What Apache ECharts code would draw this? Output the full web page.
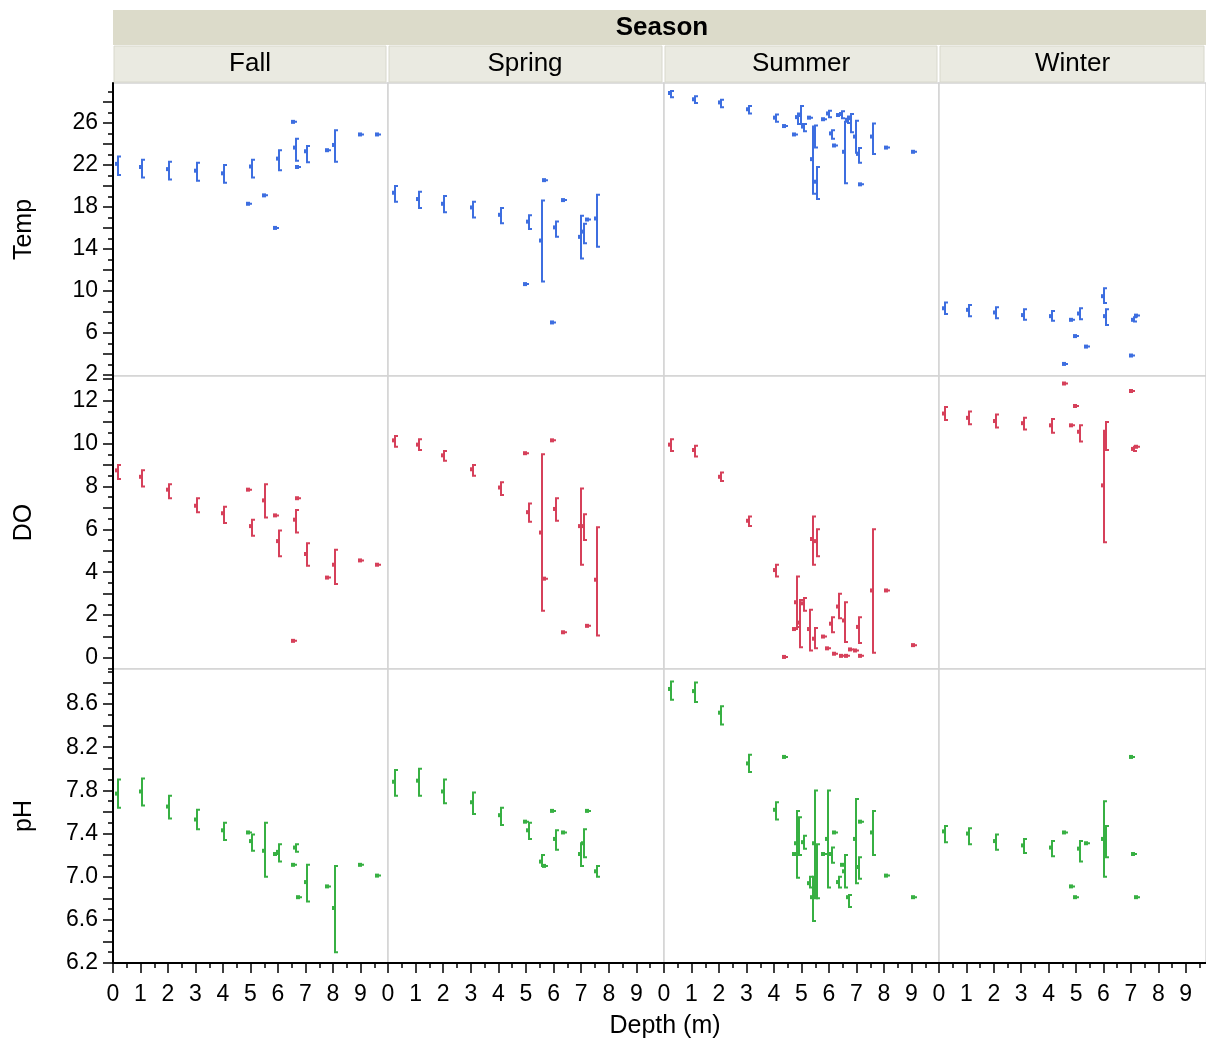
<!DOCTYPE html>
<html>
<head>
<meta charset="utf-8">
<script src="https://cdn.jsdelivr.net/npm/echarts@6/dist/echarts.min.js"></script>
<style>
html, body { margin: 0; padding: 0; background: #fff; }
#chart { width: 1206px; height: 1043px; }
</style>
</head>
<body>
<div id="chart"></div>
<script>
// each row: [depth, mean, low, high]  (low = high = mean for single readings)
var tempFall = [
    [0.15, 22.1, 21.05, 22.8], [1.0, 21.8, 20.8, 22.5], [2.0, 21.6, 20.6, 22.3],
    [3.0, 21.45, 20.5, 22.2], [4.0, 21.2, 20.3, 22.0], [4.9, 18.3, 18.3, 18.3],
    [5.03, 21.85, 20.8, 22.5], [5.5, 19.1, 19.1, 19.1], [5.9, 16.0, 16.0, 16.0],
    [6.0, 22.6, 21.5, 23.4], [6.53, 26.1, 26.1, 26.1], [6.62, 23.65, 22.4, 24.5],
    [6.7, 21.8, 21.8, 21.8], [7.02, 23.3, 22.25, 23.8], [7.79, 23.4, 23.4, 23.4],
    [8.03, 23.9, 22.3, 25.3], [8.98, 24.9, 24.9, 24.9], [9.6, 24.9, 24.9, 24.9]
];
var tempSpring = [
    [0.22, 19.35, 18.5, 20.0], [1.08, 18.75, 17.9, 19.45], [2.0, 18.3, 17.5, 19.05],
    [3.04, 17.95, 17.0, 18.5], [4.05, 17.25, 16.45, 17.9], [4.95, 10.65, 10.65, 10.65],
    [5.08, 16.6, 15.9, 17.2], [5.56, 14.8, 10.9, 18.6], [5.65, 20.55, 20.55, 20.55],
    [5.95, 7.0, 7.0, 7.0], [6.04, 16.05, 15.15, 16.6], [6.35, 18.65, 18.65, 18.65],
    [6.96, 15.15, 13.1, 17.15], [7.05, 15.65, 14.55, 16.4], [7.22, 16.8, 16.8, 16.8],
    [7.53, 16.9, 14.2, 19.15]
];
var tempSummer = [
    [0.22, 28.85, 28.45, 29.05], [1.09, 28.25, 27.9, 28.55], [2.05, 27.95, 27.5, 28.2],
    [3.07, 27.3, 26.9, 27.6], [4.04, 26.5, 26.1, 26.8], [4.35, 25.7, 25.7, 25.7],
    [4.74, 24.9, 24.9, 24.9], [4.84, 26.55, 25.9, 26.9], [4.96, 26.75, 25.9, 27.6],
    [5.07, 25.65, 25.2, 25.9], [5.29, 26.5, 26.5, 26.5], [5.37, 22.55, 19.25, 25.65],
    [5.47, 24.85, 23.65, 25.75], [5.53, 20.4, 18.75, 21.8], [5.77, 26.35, 26.35, 26.35],
    [5.95, 26.9, 26.55, 27.15], [6.08, 25.0, 24.5, 25.3], [6.17, 23.85, 23.85, 23.85],
    [6.33, 26.75, 26.75, 26.75], [6.45, 26.85, 26.45, 27.1], [6.55, 23.25, 20.25, 26.1],
    [6.66, 26.3, 26.0, 26.6], [6.75, 26.45, 25.1, 26.85], [6.96, 24.7, 23.15, 26.2],
    [7.06, 23.05, 22.2, 23.6], [7.14, 20.15, 20.15, 20.15], [7.58, 24.7, 23.05, 25.95],
    [8.06, 23.65, 23.65, 23.65], [9.04, 23.25, 23.25, 23.25]
];
var tempWinter = [
    [0.2, 8.35, 7.8, 8.9], [1.07, 8.2, 7.6, 8.65], [2.05, 7.95, 7.4, 8.45],
    [3.07, 7.7, 7.25, 8.25], [4.07, 7.6, 7.15, 8.1], [4.55, 3.05, 3.05, 3.05],
    [4.8, 7.25, 7.25, 7.25], [4.96, 5.7, 5.7, 5.7], [5.1, 7.85, 7.3, 8.35],
    [5.35, 4.7, 4.7, 4.7], [5.98, 9.5, 8.85, 10.25], [6.04, 7.6, 6.75, 8.25],
    [7.0, 3.85, 3.85, 3.85], [7.08, 7.25, 7.1, 7.5], [7.18, 7.65, 7.65, 7.65]
];

var doFall = [
    [0.15, 8.75, 8.35, 9.0], [1.0, 8.45, 8.0, 8.75], [2.0, 7.85, 7.45, 8.1],
    [3.0, 7.1, 6.8, 7.45], [4.0, 6.75, 6.3, 7.05], [4.9, 7.85, 7.85, 7.85],
    [5.03, 6.15, 5.7, 6.45], [5.5, 7.35, 6.55, 8.1], [5.9, 6.65, 6.65, 6.65],
    [6.0, 5.45, 4.75, 5.95], [6.55, 0.8, 0.8, 0.8], [6.62, 6.45, 5.85, 6.9],
    [6.7, 7.45, 7.45, 7.45], [7.02, 4.85, 4.3, 5.35], [7.79, 3.75, 3.75, 3.75],
    [8.03, 4.35, 3.45, 5.05], [8.98, 4.55, 4.55, 4.55], [9.6, 4.35, 4.35, 4.35]
];
var doSpring = [
    [0.22, 10.15, 9.85, 10.35], [1.08, 9.95, 9.7, 10.2], [2.0, 9.45, 9.2, 9.65],
    [3.04, 8.8, 8.5, 9.0], [4.05, 7.95, 7.6, 8.2], [4.95, 9.55, 9.55, 9.55],
    [5.08, 6.8, 6.35, 7.2], [5.56, 5.85, 2.2, 9.5], [5.65, 3.7, 3.7, 3.7],
    [5.95, 10.15, 10.15, 10.15], [6.04, 6.95, 6.4, 7.45], [6.35, 1.2, 1.2, 1.2],
    [6.96, 6.15, 4.35, 7.9], [7.05, 6.15, 5.5, 6.7], [7.22, 1.5, 1.5, 1.5],
    [7.53, 3.65, 1.05, 6.1]
];
var doSummer = [
    [0.22, 9.95, 9.65, 10.2], [1.09, 9.7, 9.4, 9.9], [2.05, 8.45, 8.25, 8.65],
    [3.07, 6.4, 6.15, 6.6], [4.04, 4.1, 3.8, 4.35], [4.35, 0.05, 0.05, 0.05],
    [4.74, 1.35, 1.35, 1.35], [4.8, 2.6, 1.45, 3.8], [4.9, 1.65, 0.5, 2.7],
    [5.07, 2.55, 2.2, 2.8], [5.29, 1.35, 0.35, 2.25], [5.37, 5.55, 4.35, 6.6],
    [5.47, 0.9, 0.45, 1.4], [5.53, 5.45, 4.75, 6.0], [5.77, 1.0, 1.0, 1.0],
    [5.93, 0.45, 0.45, 0.45], [6.08, 1.6, 1.2, 1.9], [6.17, 0.2, 0.2, 0.2],
    [6.33, 2.4, 1.85, 3.0], [6.45, 0.1, 0.1, 0.1], [6.55, 1.75, 0.75, 2.6],
    [6.63, 0.1, 0.1, 0.1], [6.75, 0.4, 0.4, 0.4], [6.96, 0.35, 0.35, 0.35],
    [7.06, 1.45, 0.7, 1.9], [7.14, 0.1, 0.1, 0.1], [7.57, 3.15, 0.25, 6.0],
    [8.06, 3.15, 3.15, 3.15], [9.04, 0.6, 0.6, 0.6]
];
var doWinter = [
    [0.2, 11.4, 11.1, 11.7], [1.07, 11.2, 10.9, 11.5], [2.05, 11.05, 10.75, 11.35],
    [3.07, 10.95, 10.65, 11.2], [4.07, 10.85, 10.5, 11.15], [4.55, 12.8, 12.8, 12.8],
    [4.8, 10.85, 10.85, 10.85], [4.96, 11.75, 11.75, 11.75], [5.1, 10.55, 10.1, 10.85],
    [5.98, 8.05, 5.4, 10.6], [6.04, 10.35, 9.7, 11.0], [7.0, 12.45, 12.45, 12.45],
    [7.08, 9.75, 9.65, 9.85], [7.18, 9.85, 9.85, 9.85]
];

var phFall = [
    [0.15, 7.77, 7.64, 7.9], [1.0, 7.79, 7.66, 7.91], [2.0, 7.65, 7.54, 7.75],
    [3.0, 7.53, 7.44, 7.62], [4.0, 7.43, 7.34, 7.5], [4.9, 7.41, 7.41, 7.41],
    [5.03, 7.33, 7.24, 7.39], [5.5, 7.24, 7.0, 7.5], [5.9, 7.21, 7.21, 7.21],
    [6.0, 7.23, 7.14, 7.3], [6.55, 7.11, 7.11, 7.11], [6.63, 7.27, 7.23, 7.3],
    [6.72, 6.81, 6.81, 6.81], [7.02, 6.95, 6.77, 7.11], [7.79, 6.91, 6.91, 6.91],
    [8.03, 6.71, 6.3, 7.1], [8.98, 7.11, 7.11, 7.11], [9.6, 7.01, 7.01, 7.01]
];
var phSpring = [
    [0.22, 7.88, 7.75, 7.99], [1.08, 7.89, 7.75, 8.0], [2.0, 7.79, 7.68, 7.9],
    [3.04, 7.69, 7.58, 7.78], [4.05, 7.57, 7.48, 7.64], [4.95, 7.51, 7.51, 7.51],
    [5.08, 7.43, 7.35, 7.5], [5.56, 7.14, 7.1, 7.2], [5.65, 7.1, 7.1, 7.1],
    [5.95, 7.61, 7.61, 7.61], [6.04, 7.35, 7.25, 7.43], [6.35, 7.41, 7.41, 7.41],
    [6.96, 7.21, 7.1, 7.31], [7.05, 7.31, 7.18, 7.44], [7.22, 7.61, 7.61, 7.61],
    [7.53, 7.05, 7.0, 7.1]
];
var phSummer = [
    [0.22, 8.74, 8.64, 8.81], [1.09, 8.72, 8.62, 8.8], [2.05, 8.52, 8.41, 8.58],
    [3.07, 8.05, 7.97, 8.13], [4.04, 7.62, 7.53, 7.69], [4.35, 8.11, 8.11, 8.11],
    [4.74, 7.21, 7.21, 7.21], [4.8, 7.31, 6.99, 7.61], [4.88, 7.39, 7.2, 7.55],
    [5.07, 7.32, 7.26, 7.38], [5.29, 6.94, 6.9, 7.0], [5.37, 6.81, 6.59, 7.0],
    [5.44, 7.31, 6.8, 7.8], [5.53, 7.05, 6.8, 7.3], [5.77, 7.21, 7.21, 7.21],
    [5.93, 7.35, 6.9, 7.8], [6.08, 7.21, 7.13, 7.27], [6.17, 7.41, 7.41, 7.41],
    [6.33, 6.95, 6.9, 7.0], [6.48, 7.11, 7.11, 7.11], [6.55, 7.05, 6.9, 7.2],
    [6.69, 6.81, 6.72, 6.83], [6.96, 7.35, 6.94, 7.72], [7.06, 7.09, 6.98, 7.18],
    [7.14, 7.51, 7.51, 7.51], [7.57, 7.41, 7.2, 7.61], [8.06, 7.01, 7.01, 7.01],
    [9.04, 6.81, 6.81, 6.81]
];
var phWinter = [
    [0.2, 7.42, 7.32, 7.47], [1.07, 7.4, 7.3, 7.45], [2.05, 7.33, 7.25, 7.39],
    [3.07, 7.29, 7.22, 7.35], [4.07, 7.27, 7.19, 7.33], [4.55, 7.41, 7.41, 7.41],
    [4.8, 6.91, 6.91, 6.91], [4.96, 6.81, 6.81, 6.81], [5.1, 7.26, 7.14, 7.33],
    [5.35, 7.31, 7.31, 7.31], [5.98, 7.35, 7.0, 7.7], [6.04, 7.33, 7.18, 7.47],
    [7.0, 8.11, 8.11, 8.11], [7.08, 7.21, 7.21, 7.21], [7.18, 6.81, 6.81, 6.81]
];

var seasons = ['Fall', 'Spring', 'Summer', 'Winter'];
var depthLabels = [0, 1, 2, 3, 4, 5, 6, 7, 8, 9];
var tempLabels = [2, 6, 10, 14, 18, 22, 26];
var doLabels = [0, 2, 4, 6, 8, 10, 12];
var phLabels = [6.2, 6.6, 7.0, 7.4, 7.8, 8.2, 8.6];

var FONT = '"Liberation Sans", Arial, Helvetica, sans-serif';

// layout of the facet panels (pixels)
var cols = [
    {left: 113, width: 275, max: 10},
    {left: 388, width: 276, max: 10},
    {left: 664, width: 275, max: 10},
    {left: 939, width: 267, max: 9.74}
];
var rows = [
    {name: 'Temp', top: 83, height: 293, min: 1.9, max: 29.8, major: 2, minor: 1,
     labels: tempLabels, color: '#3d6ee0', data: [tempFall, tempSpring, tempSummer, tempWinter]},
    {name: 'DO', top: 376, height: 293, min: -0.513, max: 13.15, major: 1, minor: 0.5,
     labels: doLabels, color: '#d6405a', data: [doFall, doSpring, doSummer, doWinter]},
    {name: 'pH', top: 669, height: 294, min: 6.2, max: 8.925, major: 0.2, minor: 0.1,
     labels: phLabels, color: '#37b043', data: [phFall, phSpring, phSummer, phWinter]}
];

function steps(min, max, step) {
    var out = [];
    var k = Math.ceil(min / step - 1e-9);
    for (; k * step <= max + 1e-9; k++) out.push(Math.round(k * step * 1000) / 1000);
    return out;
}

function renderRange(params, api) {
    var d = api.value(0);
    var mid = api.coord([d, api.value(1)]);
    var lo = api.coord([d, api.value(2)]);
    var hi = api.coord([d, api.value(3)]);
    var color = api.visual('color');
    var x = Math.round(mid[0]);
    return {
        type: 'group',
        children: [
            {type: 'polyline',
             shape: {points: [[x + 4, hi[1]], [x + 1, hi[1]], [x + 1, lo[1]], [x + 4, lo[1]]]},
             style: {stroke: color, lineWidth: 2, fill: null}},
            {type: 'rect',
             shape: {x: x - 2, y: mid[1] - 2, width: 4, height: 4},
             style: {fill: color}}
        ]
    };
}

var grids = [], xAxes = [], yAxes = [], series = [];
var tickStyle = {color: '#000', width: 1.5};
var labelStyle = {fontFamily: FONT, fontSize: 23, color: '#000'};

rows.forEach(function (row, r) {
    cols.forEach(function (col, c) {
        var g = r * 4 + c;
        grids.push({
            left: col.left, top: row.top, width: col.width, height: row.height,
            show: true, borderColor: '#d4d4d4', borderWidth: 1.5, backgroundColor: '#fff',
            containLabel: false, outerBoundsMode: 'none'
        });
        var bottom = r === rows.length - 1;
        xAxes.push({
            type: 'value', gridIndex: g, min: 0, max: col.max, position: 'bottom',
            show: bottom,
            axisLine: {show: true, onZero: false, lineStyle: {color: '#000', width: 2}},
            axisTick: {show: true, customValues: steps(0, col.max, 1), length: 10, lineStyle: tickStyle},
            axisLabel: Object.assign({show: true, customValues: depthLabels, margin: 20}, labelStyle),
            splitLine: {show: false}
        });
        yAxes.push({
            type: 'value', gridIndex: g, min: row.min, max: row.max, position: 'left',
            show: c === 0,
            axisLine: {show: true, onZero: false, lineStyle: {color: '#000', width: 2}},
            axisTick: {show: true, customValues: steps(row.min, row.max, row.major), length: 10, lineStyle: tickStyle},
            axisLabel: Object.assign({
                show: true, customValues: row.labels, margin: 15,
                formatter: function (v) { return r === 2 ? v.toFixed(1) : String(v); }
            }, labelStyle),
            splitLine: {show: false}
        });
        series.push({
            type: 'custom', name: row.name + ' ' + seasons[c],
            xAxisIndex: g, yAxisIndex: g,
            itemStyle: {color: row.color},
            renderItem: renderRange,
            data: row.data[c],
            animation: false, silent: true
        });
    });
});

// minor ticks: extra axes on the outer panels
rows.forEach(function (row, r) {
    var g = r * 4;
    yAxes.push({
        type: 'value', gridIndex: g, min: row.min, max: row.max, position: 'left',
        axisLine: {show: false}, axisLabel: {show: false}, splitLine: {show: false},
        axisTick: {show: true, customValues: steps(row.min, row.max, row.minor), length: 5, lineStyle: tickStyle}
    });
});
cols.forEach(function (col, c) {
    var g = 8 + c;
    xAxes.push({
        type: 'value', gridIndex: g, min: 0, max: col.max, position: 'bottom',
        axisLine: {show: false}, axisLabel: {show: false}, splitLine: {show: false},
        axisTick: {show: true, customValues: steps(0, col.max, 0.5), length: 5, lineStyle: tickStyle}
    });
});

// facet strips and titles
var graphics = [
    {type: 'rect', shape: {x: 113, y: 10, width: 1093, height: 35}, style: {fill: '#dcdbca'}},
    {type: 'text', x: 662, y: 28, style: {text: 'Season', font: 'bold 26px ' + FONT, fill: '#000', align: 'center', verticalAlign: 'middle'}},
    {type: 'text', x: 665, y: 1026, style: {text: 'Depth (m)', font: '25px ' + FONT, fill: '#000', align: 'center', verticalAlign: 'middle'}}
];
cols.forEach(function (col, c) {
    graphics.push({type: 'rect', shape: {x: col.left + 1, y: 46, width: col.width - 3, height: 36},
        style: {fill: '#eaeae1', stroke: '#d8d8cc', lineWidth: 1}});
    graphics.push({type: 'text', x: col.left + Math.min(col.width, 274) / 2, y: 64,
        style: {text: seasons[c], font: '26px ' + FONT, fill: '#000', align: 'center', verticalAlign: 'middle'}});
});
rows.forEach(function (row) {
    graphics.push({type: 'text', x: 24, y: row.top + row.height / 2, rotation: Math.PI / 2,
        style: {text: row.name, font: '25px ' + FONT, fill: '#000', align: 'center', verticalAlign: 'middle'}});
});

var chart = echarts.init(document.getElementById('chart'));
chart.setOption({
    backgroundColor: '#fff',
    animation: false,
    grid: grids,
    xAxis: xAxes,
    yAxis: yAxes,
    series: series,
    graphic: graphics
});
</script>
</body>
</html>
